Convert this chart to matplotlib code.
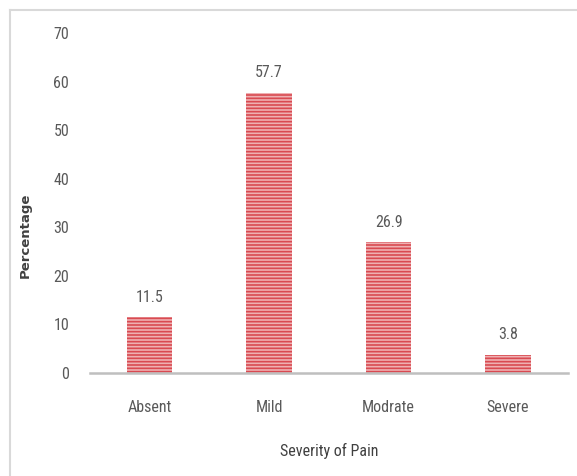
import matplotlib.pyplot as plt
from matplotlib.lines import Line2D

# datos
categorias = ["Absent", "Mild", "Modrate", "Severe"]
porcentajes = [11.5, 57.7, 26.9, 3.8]
ticks_y = [0, 10, 20, 30, 40, 50, 60, 70]

# fuente estrecha parecida a la del original
plt.rcParams['font.family'] = ['Roboto Condensed', 'DejaVu Sans']
plt.rcParams['hatch.linewidth'] = 1.2

gris_texto = '#595959'

fig = plt.figure(figsize=(5.77, 4.76), dpi=100)
ax = fig.add_axes([0.156, 0.2164, 0.828, 0.7143])

x = range(len(categorias))
barras = ax.bar(x, porcentajes, width=0.38, color='#efb0b2', edgecolor='#d94a51',
                linewidth=0, hatch='-----')

# etiquetas de valor encima de cada barra
for b, v in zip(barras, porcentajes):
    ax.annotate(f"{v}", (b.get_x() + b.get_width() / 2, v), xytext=(0, 9),
                textcoords='offset points', ha='center', va='bottom',
                fontsize=11.5, color=gris_texto)

ax.set_xlim(-0.5, 3.5)
ax.set_ylim(0, 70)
ax.set_yticks(ticks_y)
ax.set_xticks(list(x))
ax.set_xticklabels(categorias)
ax.tick_params(axis='y', length=0, pad=15, labelsize=11.5, labelcolor=gris_texto)
ax.tick_params(axis='x', length=0, pad=19.5, labelsize=11.5, labelcolor=gris_texto)

for lado in ['top', 'right', 'left']:
    ax.spines[lado].set_visible(False)
ax.spines['bottom'].set_color('#bfbfbf')
ax.spines['bottom'].set_linewidth(1.8)

ax.set_xlabel('Severity of Pain', fontsize=11.5, color='#404040', labelpad=20)
fig.text(0.044, 0.505, 'Percentage', rotation=90, ha='center', va='center',
         fontsize=9.5, fontweight='bold', color='#404040', family=['DejaVu Sans'])

# marco gris del área del gráfico (solo arriba e izquierda visibles)
fig.add_artist(Line2D([0.018, 0.018], [0.0, 0.979], transform=fig.transFigure,
                      color='#d9d9d9', linewidth=1.5))
fig.add_artist(Line2D([0.018, 1.0], [0.979, 0.979], transform=fig.transFigure,
                      color='#d9d9d9', linewidth=1.5))

fig.savefig('out.png', dpi=100)
